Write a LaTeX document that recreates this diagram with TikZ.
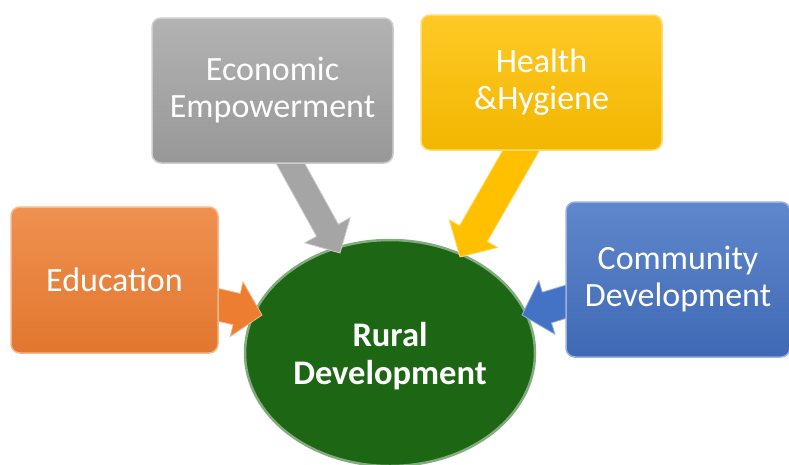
\documentclass[tikz,border=0pt]{standalone}
\usepackage{fontspec}
\setmainfont{Carlito}
\usetikzlibrary{shapes.geometric,calc}
\pgfdeclarelayer{front}
\pgfsetlayers{main,front}
\definecolor{orng}{RGB}{237,125,49}
\definecolor{gry}{RGB}{165,165,165}
\definecolor{ylw}{RGB}{255,192,0}
\definecolor{blu}{RGB}{68,114,196}
\definecolor{grn}{RGB}{28,102,20}
\newcommand\fatarrow[6]{%
  \path[#1] let \p1=($(#3)-(#2)$), \n1={atan2(\y1,\x1)}, \n2={veclen(\x1,\y1)-#6} in
    ($(#2)+(\n1+90:#4)$) -- ($(#2)+(\n1:\n2)+(\n1+90:#4)$) -- ($(#2)+(\n1:\n2)+(\n1+90:#5)$)
    -- (#3) -- ($(#2)+(\n1:\n2)+(\n1-90:#5)$) -- ($(#2)+(\n1:\n2)+(\n1-90:#4)$)
    -- ($(#2)+(\n1-90:#4)$) -- cycle;}
\begin{document}
\begin{tikzpicture}[x=1pt,y=-1pt,
  box/.style={rectangle, rounded corners=9pt, anchor=north west, inner sep=0pt, outer sep=0pt,
    text=white, align=center, line width=1.5pt, font=\fontsize{34}{37}\selectfont},
  fatarr/.style={fill=#1, draw=#1!55!white, line width=0.8pt, line join=miter}]
\useasboundingbox (0,0) rectangle (789,464);
% central ellipse
\node[ellipse, minimum width=290pt, minimum height=226pt, inner sep=0pt,
  fill=grn, draw=grn!55!white, line width=2.5pt] (rd) at (390,353) {};
\node[text=white, align=center, font=\bfseries\fontsize{34.5}{38}\selectfont] (rdt) at (390,356) {Rural\\Development};
% boxes
\begin{pgfonlayer}{front}
\node[box, minimum width=207pt, minimum height=146pt, top color=orng!85!white, bottom color=orng!95!black, draw=orng!55!white]
  (edu) at (11,207) {Education};
\node[box, minimum width=241pt, minimum height=145pt, top color=gry!85!white, bottom color=gry!92!black, draw=gry!55!white]
  (econ) at (152,18) {Economic\\Empowerment};
\node[box, minimum width=241pt, minimum height=135pt, top color=ylw!85!white, bottom color=ylw!95!black, draw=ylw!55!white]
  (hh) at (421,15) {Health\\\&Hygiene};
\node[box, minimum width=224pt, minimum height=155pt, top color=blu!85!white, bottom color=blu!92!black, draw=blu!55!white]
  (cd) at (566,202) {Community\\Development};
\end{pgfonlayer}
% arrows
\coordinate (eS) at (180,296); \coordinate (eT) at (262,315);
\coordinate (gS) at (283,150); \coordinate (gT) at (340,253);
\coordinate (yS) at (530,135); \coordinate (yT) at (460,257);
\coordinate (bS) at (585,296); \coordinate (bT) at (522,315);
\fatarrow{fatarr=orng}{eS}{eT}{16pt}{28pt}{26pt}
\fatarrow{fatarr=gry}{gS}{gT}{12.5pt}{26pt}{26pt}
\fatarrow{fatarr=ylw}{yS}{yT}{16pt}{28pt}{27pt}
\fatarrow{fatarr=blu}{bS}{bT}{16pt}{28pt}{26pt}
\end{tikzpicture}
\end{document}
